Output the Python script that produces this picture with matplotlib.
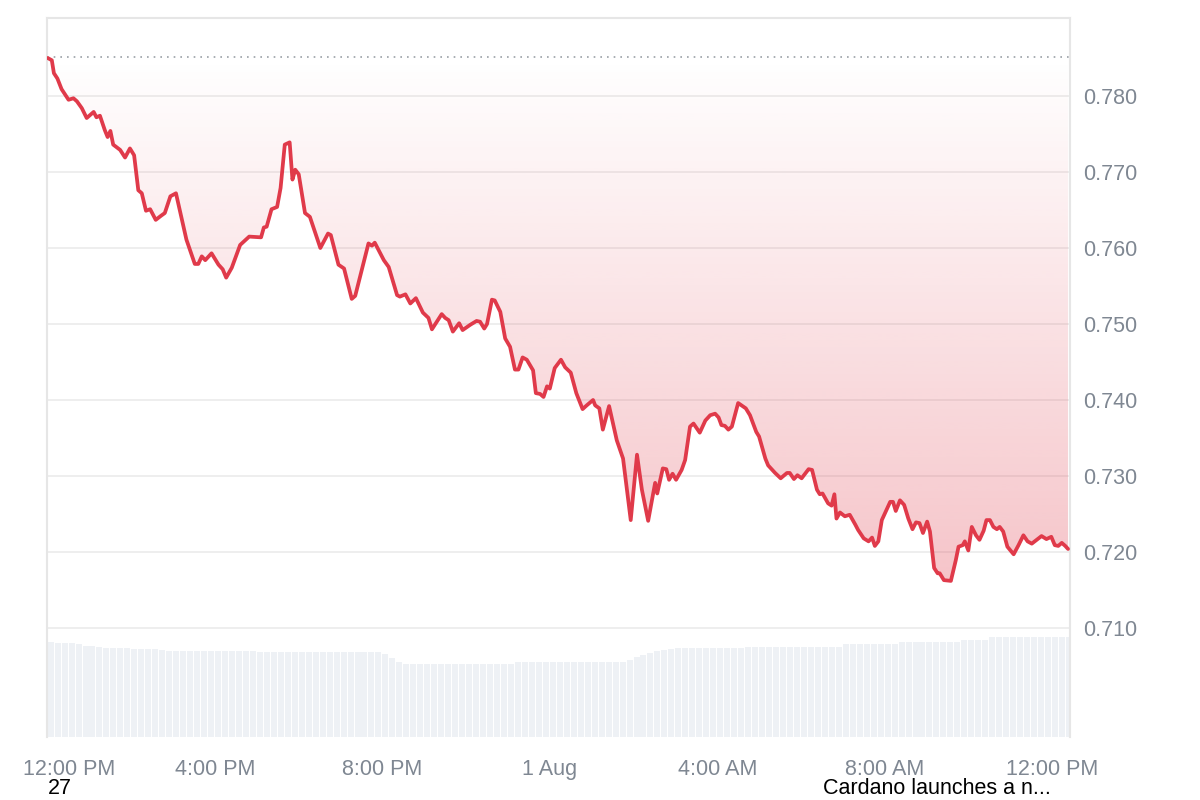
import numpy as np
import matplotlib
matplotlib.use("Agg")
import matplotlib.pyplot as plt
from matplotlib.patches import PathPatch
from matplotlib.transforms import ScaledTranslation
from matplotlib.colors import to_rgb

# ---------------- data ----------------
# minutes after 12:00 PM (31 Jul) and ADA price in USD
minutes = [0, 6, 9, 14, 20, 30, 37, 42, 49, 56, 66, 70, 75, 82, 86, 90, 94, 104, 111, 118,
           124, 130, 135, 141, 147, 155, 162, 168, 176, 184, 199, 211, 216, 221, 226, 235, 245, 251, 256, 264,
           276, 289,
           306, 310, 314, 321, 329, 334, 340, 347, 351, 355,
           360, 369, 376, 391, 402, 406, 417, 425, 436, 441,
           460, 465, 469, 482, 489, 501, 505, 513, 520, 528,
           538, 546, 551, 565, 570, 575, 581, 590, 595, 606,
           615, 620, 626, 630, 637, 641, 649, 656, 663, 670,
           675, 681, 687, 696, 700, 706, 711, 716, 720, 727,
           736, 742, 750, 758, 767, 773, 782, 785, 791, 796,
           805, 816, 825, 836, 845, 852, 861,
           871, 874, 882, 887, 891, 896, 901, 909, 914, 921,
           926, 935, 943, 950, 957, 962, 966, 971, 976, 981,
           990, 1001, 1007, 1016, 1020, 1029, 1033, 1043, 1051, 1060,
           1064, 1070, 1075, 1081, 1091, 1096, 1103, 1107, 1111, 1119,
           1124, 1128, 1131, 1136, 1143, 1150,
           1158, 1162, 1170, 1177, 1182, 1186, 1191, 1196, 1203, 1208,
           1212, 1216, 1222, 1228, 1234, 1240, 1245, 1250, 1255, 1261,
           1265, 1271, 1276, 1279, 1285, 1295, 1302, 1306, 1312, 1315,
           1320, 1325, 1331, 1336, 1342, 1346, 1351, 1356, 1361, 1365,
           1370, 1376, 1385, 1392, 1399, 1405, 1411, 1418, 1425, 1432,
           1439, 1444, 1449, 1454, 1459, 1463]

prices = [0.7850, 0.7847, 0.7830, 0.7823, 0.7809, 0.7795, 0.7797, 0.7793, 0.7784, 0.7771,
          0.7779, 0.7772, 0.7774, 0.7755, 0.7746, 0.7754, 0.7736, 0.7729, 0.7719, 0.7731,
          0.7722, 0.7676, 0.7672, 0.7649, 0.7651, 0.7637, 0.7642, 0.7646, 0.7668, 0.7672,
          0.7611, 0.7579, 0.7579, 0.7589, 0.7584, 0.7593, 0.7578, 0.7572, 0.7561, 0.7574,
          0.7604, 0.7615,
          0.7614, 0.7627, 0.7628, 0.7651, 0.7654, 0.7679, 0.7736, 0.7739, 0.7690, 0.7703,
          0.7697, 0.7646, 0.7641, 0.7600, 0.7619, 0.7617, 0.7578, 0.7573, 0.7533, 0.7537,
          0.7606, 0.7603, 0.7607, 0.7584, 0.7575, 0.7538, 0.7536, 0.7539, 0.7527, 0.7534,
          0.7515, 0.7508, 0.7493, 0.7513, 0.7508, 0.7505, 0.7490, 0.7501, 0.7492, 0.7499,
          0.7504, 0.7503, 0.7494, 0.7500, 0.7532, 0.7531, 0.7516, 0.7481, 0.7470, 0.7440,
          0.7440, 0.7456, 0.7453, 0.7439, 0.7409, 0.7408, 0.7404, 0.7418, 0.7415, 0.7442,
          0.7453, 0.7443, 0.7436, 0.7409, 0.7388, 0.7393, 0.7400, 0.7393, 0.7389, 0.7361,
          0.7392, 0.7347, 0.7323, 0.7242, 0.7328, 0.7282, 0.7241,
          0.7291, 0.7277, 0.7310, 0.7309, 0.7295, 0.7303, 0.7295, 0.7308, 0.7321, 0.7365,
          0.7369, 0.7357, 0.7373, 0.7380, 0.7382, 0.7377, 0.7367, 0.7366, 0.7361, 0.7365,
          0.7396, 0.7389, 0.7380, 0.7358, 0.7352, 0.7323, 0.7314, 0.7304, 0.7297, 0.7304,
          0.7304, 0.7296, 0.7301, 0.7297, 0.7309, 0.7308, 0.7282, 0.7276, 0.7277, 0.7264,
          0.7261, 0.7276, 0.7244, 0.7252, 0.7247, 0.7249,
          0.7236, 0.7229, 0.7218, 0.7214, 0.7219, 0.7208, 0.7214, 0.7242, 0.7256, 0.7266,
          0.7266, 0.7254, 0.7268, 0.7262, 0.7244, 0.7230, 0.7239, 0.7238, 0.7225, 0.7240,
          0.7227, 0.7179, 0.7172, 0.7172, 0.7163, 0.7162, 0.7189, 0.7207, 0.7209, 0.7214,
          0.7202, 0.7233, 0.7222, 0.7216, 0.7228, 0.7242, 0.7242, 0.7233, 0.7230, 0.7233,
          0.7227, 0.7207, 0.7197, 0.7209, 0.7222, 0.7214, 0.7211, 0.7216, 0.7221, 0.7217,
          0.7220, 0.7209, 0.7208, 0.7212, 0.7208, 0.7204]

open_price = 0.7851

# volume bars: one per 10 minutes (millions USD, rolling)
vol_minutes = list(range(0, 1470, 10))
volumes = [475, 470, 470, 470, 465, 455, 455, 450, 445, 445, 445, 445, 440, 440, 440, 440, 435, 430,
           430, 430, 430, 430, 430, 430, 430, 430, 430, 430, 430, 430,
           425, 425, 425, 425, 425, 425, 425, 425, 425, 425, 425, 425, 425, 425, 425, 425, 425, 425,
           415, 395, 375,
           365, 365, 365, 365, 365, 365, 365, 365, 365, 365, 365, 365, 365, 365, 365, 365,
           375, 375, 375, 375, 375, 375, 375, 375, 375, 375, 375, 375, 375, 375, 375, 375,
           385, 400, 410, 420, 430, 435, 440,
           445, 445, 445, 445, 445, 445, 445, 445, 445, 445,
           450, 450, 450, 450, 450, 450, 450, 450, 450, 450, 450, 450, 450, 450,
           465, 465, 465, 465, 465, 465, 465, 465,
           475, 475, 475, 475, 475, 475, 475, 475, 475,
           485, 485, 485, 485,
           500, 500, 500, 500, 500, 500, 500, 500, 500, 500, 500, 500]
volume_axis_max = 3595

tick_minutes = [0, 240, 480, 720, 960, 1200, 1440]
tick_labels = ["12:00 PM", "4:00 PM", "8:00 PM", "1 Aug", "4:00 AM", "8:00 AM", "12:00 PM"]
y_ticks = [0.710, 0.720, 0.730, 0.740, 0.750, 0.760, 0.770, 0.780]

# ---------------- style ----------------
plt.rcParams['font.family'] = ['Liberation Sans', 'DejaVu Sans']
RED = '#e03a4a'
LABEL = '#7f8792'
XLIM = (-0.9, 1465.8)
YLIM = (0.69566, 0.79026)

fig = plt.figure(figsize=(12, 8), dpi=100)
rect = [47 / 1200, 63 / 800, 1023 / 1200, 719 / 800]

# volume axes (behind)
axv = fig.add_axes(rect)
axv.bar(vol_minutes, volumes, width=8.6, align='edge', color='#eef1f5', linewidth=0)
axv.set_xlim(*XLIM)
axv.set_ylim(0, volume_axis_max)
axv.axis('off')

# price axes
ax = fig.add_axes(rect)
ax.patch.set_alpha(0)
ax.set_xlim(*XLIM)
ax.set_ylim(*YLIM)

# gradient fill between price and opening price
poly = ax.fill_between(minutes, prices, open_price, facecolor='none', edgecolor='none')
clip = PathPatch(poly.get_paths()[0], transform=ax.transData, facecolor='none', edgecolor='none')
ax.add_patch(clip)
rgba = np.zeros((256, 1, 4))
rgba[..., :3] = to_rgb(RED)
rgba[:, 0, 3] = np.linspace(0.30, 0.0, 256)
im = ax.imshow(rgba, extent=[XLIM[0], XLIM[1], min(prices) - 0.0005, open_price],
               origin='lower', aspect='auto', zorder=1, interpolation='bilinear')
im.set_clip_path(clip)

ax.axhline(open_price, color='#9aa0a6', linestyle=(0, (1, 3)), lw=1.2, zorder=2)
ax.plot(minutes, prices, color=RED, lw=2.7, solid_joinstyle='round', solid_capstyle='round', zorder=3)

ax.set_yticks(y_ticks)
ax.set_yticklabels([f"{v:.3f}" for v in y_ticks])
ax.yaxis.tick_right()
ax.grid(axis='y', color='#ebebeb', lw=1.2, zorder=0)
ax.set_axisbelow(True)
ax.set_xticks(tick_minutes)
ax.set_xticklabels(tick_labels)
ax.tick_params(axis='y', length=0, pad=9.5, labelsize=15.5, labelcolor=LABEL)
ax.tick_params(axis='x', length=0, pad=16, labelsize=15.5, labelcolor=LABEL)
ax.set_ylim(*YLIM)

for side in ['top', 'left', 'right']:
    ax.spines[side].set_color('#e6e6e6')
    ax.spines[side].set_linewidth(1.5)
ax.spines['bottom'].set_visible(False)

first = ax.get_xticklabels()[0]
first.set_transform(first.get_transform() + ScaledTranslation(0.21, 0, fig.dpi_scale_trans))

fig.text(48 / 1200, 0.001, "27", ha='left', va='bottom', fontsize=15.5, color='black')
fig.text(823 / 1200, 0.001, "Cardano launches a n...", ha='left', va='bottom', fontsize=15.5, color='black')

fig.savefig("out.png", dpi=100, facecolor='white')
